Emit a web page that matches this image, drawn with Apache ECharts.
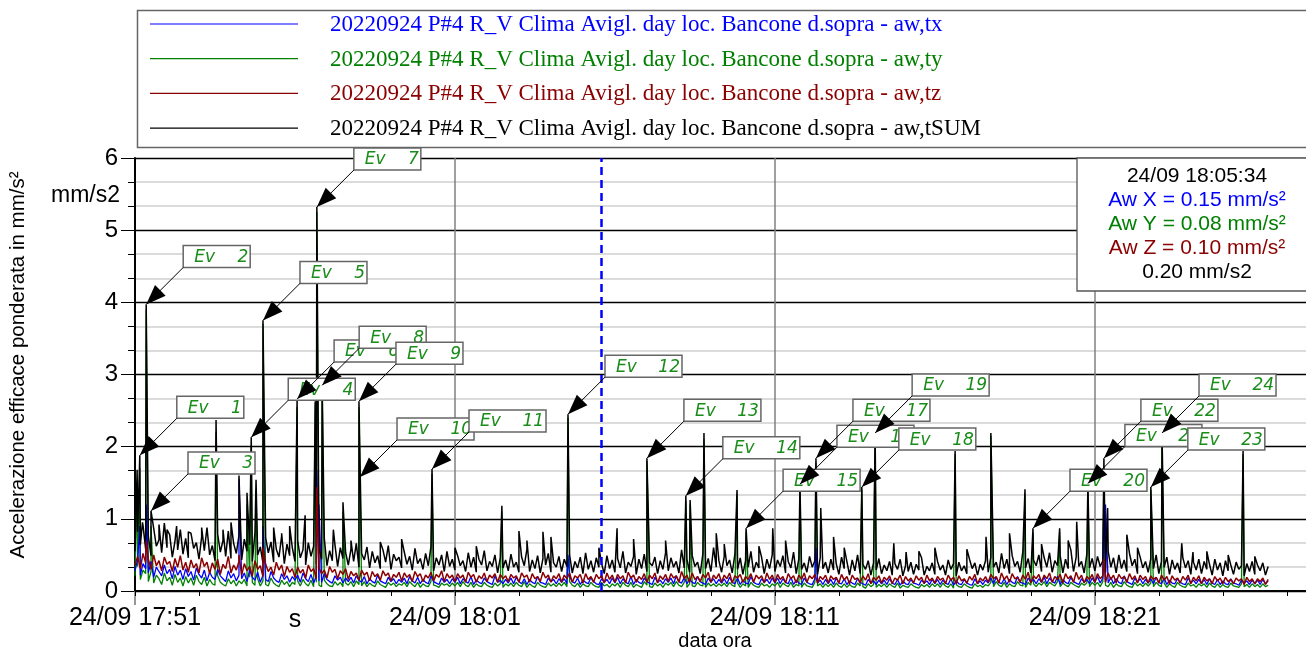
<!DOCTYPE html>
<html>
<head>
<meta charset="utf-8">
<script src="https://cdn.jsdelivr.net/npm/echarts/dist/echarts.min.js"></script>
<style>html,body{margin:0;padding:0;background:#fff}#main{width:1306px;height:651px}</style>
</head>
<body>
<div id="main"></div>
<script>
// seconds from 24/09 17:51:00, one base sample every STEP seconds
const STEP = 5
const T0 = 17 * 3600 + 51 * 60
const X_MAX = 2196
const xTicks = [0, 600, 1200, 1800]
const xSmallTicks = [0,120,240,360,480,600,720,840,960,1080,1200,1320,1440,1560,1680,1800,1920,2040,2160]

const seriesNames = [
    '20220924 P#4 R_V Clima Avigl. day loc. Bancone d.sopra - aw,tx',
    '20220924 P#4 R_V Clima Avigl. day loc. Bancone d.sopra - aw,ty',
    '20220924 P#4 R_V Clima Avigl. day loc. Bancone d.sopra - aw,tz',
    '20220924 P#4 R_V Clima Avigl. day loc. Bancone d.sopra - aw,tSUM'
]
const seriesColors = ['#0000ff', '#008000', '#8b0000', '#000000']

const blackBase = [
    0.55,0.82,0.64,0.91,0.58,0.76,0.49,0.87,0.62,0.71,0.53,0.94,0.60,0.78,0.47,0.69,0.57,0.85,0.51,0.73,
    0.46,0.80,0.59,0.67,0.44,0.75,0.56,0.88,0.50,0.63,0.42,0.79,0.54,0.70,0.48,0.83,0.45,0.66,0.52,0.77,
    0.43,0.72,0.55,0.64,0.41,0.81,0.50,0.61,0.39,0.74,0.53,0.68,0.40,0.58,0.47,0.76,0.38,0.65,0.49,0.60,
    0.41,0.70,0.46,0.57,0.36,0.67,0.48,0.62,0.37,0.59,0.44,0.73,0.35,0.56,0.42,0.64,0.34,0.60,0.45,0.53,
    0.36,0.58,0.41,0.66,0.33,0.52,0.43,0.61,0.32,0.55,0.39,0.49,0.31,0.57,0.40,0.63,0.30,0.51,0.42,0.47,
    0.32,0.54,0.37,0.48,0.29,0.59,0.38,0.45,0.30,0.52,0.35,0.61,0.28,0.46,0.36,0.50,0.27,0.55,0.34,0.44,
    0.29,0.49,0.35,0.42,0.27,0.53,0.33,0.47,0.26,0.44,0.36,0.56,0.28,0.41,0.34,0.50,0.25,0.46,0.32,0.43,
    0.28,0.51,0.33,0.40,0.26,0.47,0.35,0.58,0.27,0.43,0.31,0.49,0.25,0.45,0.36,0.52,0.26,0.39,0.33,0.48,
    0.27,0.44,0.34,0.50,0.25,0.41,0.32,0.47,0.24,0.53,0.30,0.42,0.26,0.46,0.33,0.38,0.24,0.49,0.31,0.43,
    0.26,0.45,0.32,0.55,0.25,0.40,0.34,0.48,0.23,0.44,0.31,0.51,0.27,0.39,0.35,0.47,0.24,0.42,0.30,0.53,
    0.28,0.46,0.33,0.41,0.25,0.57,0.32,0.44,0.26,0.49,0.34,0.40,0.24,0.52,0.31,0.45,0.27,0.60,0.33,0.42,
    0.26,0.48,0.35,0.43,0.25,0.51,0.30,0.46,0.23,0.42,0.33,0.55,0.26,0.40,0.32,0.47,0.24,0.44,0.31,0.50,
    0.27,0.43,0.34,0.49,0.25,0.41,0.32,0.54,0.24,0.45,0.30,0.39,0.26,0.48,0.33,0.42,0.23,0.46,0.31,0.40,
    0.25,0.44,0.29,0.38,0.23,0.47,0.31,0.41,0.22,0.43,0.28,0.50,0.24,0.37,0.30,0.42,0.22,0.39,0.29,0.45,
    0.24,0.36,0.28,0.41,0.22,0.38,0.30,0.44,0.21,0.35,0.27,0.40,0.23,0.37,0.29,0.46,0.22,0.34,0.28,0.39,
    0.23,0.41,0.29,0.36,0.22,0.43,0.30,0.38,0.21,0.40,0.28,0.35,0.24,0.44,0.31,0.39,0.22,0.37,0.29,0.42,
    0.26,0.47,0.33,0.40,0.25,0.52,0.31,0.44,0.24,0.49,0.34,0.41,0.26,0.55,0.32,0.45,0.25,0.43,0.35,0.50,
    0.27,0.46,0.33,0.53,0.26,0.42,0.35,0.49,0.25,0.44,0.31,0.57,0.27,0.47,0.34,0.41,0.25,0.51,0.32,0.45,
    0.28,0.48,0.34,0.42,0.26,0.55,0.33,0.46,0.25,0.50,0.31,0.43,0.27,0.52,0.35,0.44,0.24,0.47,0.32,0.41,
    0.26,0.45,0.31,0.50,0.24,0.41,0.33,0.47,0.23,0.43,0.30,0.39,0.25,0.46,0.32,0.42,0.23,0.40,0.29,0.44,
    0.24,0.41,0.30,0.37,0.22,0.44,0.29,0.39,0.21,0.42,0.28,0.36,0.23,0.40,0.30,0.35,0.21,0.38,0.27,0.41,
    0.23,0.36,0.28,0.39,0.22,0.34
]
const redBase = [
    0.36,0.48,0.31,0.52,0.39,0.44,0.30,0.50,0.35,0.42,0.28,0.47,0.37,0.41,0.27,0.45,0.33,0.49,0.29,0.40,
    0.26,0.43,0.32,0.38,0.25,0.46,0.34,0.40,0.24,0.39,0.30,0.44,0.23,0.37,0.31,0.48,0.25,0.36,0.29,0.41,
    0.22,0.38,0.28,0.34,0.21,0.42,0.30,0.35,0.20,0.37,0.27,0.33,0.22,0.40,0.29,0.36,0.20,0.34,0.26,0.31,
    0.19,0.33,0.25,0.30,0.18,0.36,0.27,0.31,0.17,0.32,0.24,0.29,0.18,0.34,0.26,0.30,0.17,0.28,0.23,0.31,
    0.16,0.27,0.21,0.25,0.15,0.29,0.22,0.26,0.14,0.27,0.20,0.24,0.15,0.28,0.21,0.25,0.14,0.23,0.19,0.26,
    0.14,0.25,0.19,0.23,0.13,0.27,0.20,0.24,0.13,0.22,0.18,0.26,0.14,0.23,0.19,0.28,0.13,0.24,0.18,0.22,
    0.13,0.24,0.18,0.22,0.12,0.26,0.19,0.23,0.12,0.21,0.17,0.25,0.13,0.22,0.18,0.24,0.12,0.23,0.17,0.21,
    0.13,0.23,0.18,0.21,0.12,0.25,0.19,0.22,0.12,0.24,0.17,0.20,0.13,0.26,0.18,0.22,0.12,0.21,0.17,0.24,
    0.12,0.22,0.17,0.25,0.12,0.21,0.18,0.23,0.11,0.24,0.16,0.20,0.12,0.23,0.17,0.21,0.11,0.25,0.16,0.22,
    0.12,0.23,0.17,0.21,0.11,0.26,0.18,0.22,0.12,0.20,0.16,0.24,0.12,0.22,0.17,0.25,0.11,0.21,0.16,0.23,
    0.13,0.24,0.18,0.21,0.12,0.27,0.17,0.22,0.12,0.25,0.16,0.20,0.13,0.23,0.18,0.26,0.12,0.22,0.17,0.24,
    0.12,0.22,0.17,0.25,0.11,0.21,0.18,0.23,0.12,0.20,0.16,0.24,0.12,0.22,0.17,0.21,0.11,0.25,0.16,0.22,
    0.12,0.23,0.16,0.20,0.11,0.24,0.17,0.21,0.11,0.22,0.16,0.25,0.12,0.21,0.17,0.23,0.11,0.20,0.16,0.22,
    0.11,0.21,0.16,0.19,0.11,0.23,0.15,0.20,0.10,0.22,0.16,0.18,0.11,0.21,0.15,0.24,0.10,0.19,0.15,0.21,
    0.11,0.19,0.15,0.21,0.10,0.18,0.15,0.22,0.10,0.20,0.14,0.18,0.11,0.21,0.15,0.19,0.10,0.22,0.14,0.18,
    0.11,0.20,0.15,0.18,0.10,0.22,0.15,0.19,0.10,0.21,0.14,0.17,0.11,0.20,0.15,0.23,0.10,0.18,0.14,0.20,
    0.12,0.23,0.17,0.20,0.11,0.25,0.16,0.21,0.12,0.24,0.17,0.19,0.12,0.22,0.16,0.26,0.11,0.21,0.17,0.23,
    0.12,0.22,0.17,0.25,0.12,0.20,0.16,0.23,0.11,0.24,0.17,0.21,0.12,0.26,0.16,0.22,0.11,0.20,0.16,0.23,
    0.12,0.24,0.17,0.21,0.12,0.25,0.16,0.22,0.11,0.23,0.17,0.20,0.12,0.24,0.16,0.21,0.11,0.22,0.16,0.20,
    0.11,0.21,0.16,0.19,0.11,0.22,0.15,0.20,0.10,0.21,0.15,0.18,0.11,0.20,0.15,0.22,0.10,0.19,0.14,0.21,
    0.10,0.19,0.14,0.17,0.10,0.20,0.14,0.18,0.10,0.19,0.13,0.16,0.10,0.18,0.14,0.17,0.09,0.19,0.13,0.17,
    0.10,0.17,0.13,0.18,0.09,0.16
]
const blueBase = [
    0.28,0.44,0.22,0.38,0.31,0.25,0.41,0.19,0.33,0.27,0.21,0.36,0.24,0.30,0.17,0.34,0.22,0.29,0.16,0.31,
    0.20,0.27,0.15,0.32,0.23,0.18,0.29,0.14,0.26,0.19,0.16,0.30,0.21,0.17,0.13,0.28,0.18,0.24,0.14,0.22,
    0.17,0.25,0.13,0.29,0.19,0.15,0.26,0.12,0.22,0.16,0.13,0.27,0.18,0.14,0.12,0.24,0.16,0.21,0.12,0.20,
    0.15,0.22,0.12,0.25,0.17,0.13,0.23,0.11,0.20,0.14,0.12,0.24,0.16,0.13,0.11,0.21,0.15,0.19,0.11,0.18,
    0.13,0.19,0.11,0.21,0.15,0.12,0.20,0.10,0.17,0.13,0.11,0.22,0.14,0.12,0.10,0.19,0.13,0.17,0.10,0.16,
    0.12,0.18,0.10,0.20,0.14,0.11,0.19,0.10,0.16,0.12,0.10,0.21,0.13,0.11,0.09,0.18,0.12,0.16,0.10,0.17,
    0.12,0.19,0.10,0.17,0.13,0.11,0.20,0.09,0.15,0.12,0.10,0.18,0.13,0.11,0.09,0.21,0.12,0.15,0.10,0.16,
    0.11,0.18,0.10,0.19,0.13,0.10,0.17,0.09,0.16,0.12,0.10,0.20,0.12,0.11,0.09,0.18,0.13,0.16,0.10,0.17,
    0.12,0.17,0.10,0.20,0.13,0.11,0.18,0.09,0.15,0.12,0.10,0.19,0.13,0.10,0.09,0.17,0.12,0.16,0.10,0.18,
    0.11,0.19,0.10,0.17,0.12,0.10,0.20,0.09,0.16,0.12,0.10,0.18,0.13,0.11,0.09,0.19,0.12,0.15,0.10,0.17,
    0.12,0.18,0.10,0.21,0.13,0.11,0.19,0.10,0.16,0.12,0.10,0.20,0.13,0.11,0.09,0.18,0.12,0.17,0.10,0.16,
    0.11,0.17,0.10,0.19,0.12,0.10,0.18,0.09,0.15,0.11,0.10,0.20,0.12,0.10,0.09,0.17,0.12,0.16,0.10,0.18,
    0.11,0.18,0.10,0.17,0.12,0.10,0.19,0.09,0.15,0.11,0.09,0.18,0.12,0.10,0.09,0.17,0.11,0.15,0.09,0.16,
    0.10,0.16,0.09,0.18,0.11,0.10,0.17,0.09,0.14,0.11,0.09,0.17,0.12,0.10,0.08,0.16,0.11,0.14,0.09,0.15,
    0.10,0.15,0.09,0.17,0.11,0.09,0.16,0.08,0.14,0.10,0.09,0.16,0.11,0.10,0.08,0.15,0.11,0.14,0.09,0.16,
    0.10,0.16,0.09,0.15,0.11,0.09,0.17,0.08,0.14,0.10,0.09,0.16,0.11,0.09,0.08,0.17,0.10,0.14,0.09,0.15,
    0.11,0.18,0.10,0.19,0.12,0.10,0.17,0.09,0.16,0.12,0.10,0.20,0.12,0.11,0.09,0.18,0.12,0.16,0.10,0.17,
    0.12,0.19,0.10,0.18,0.13,0.11,0.20,0.09,0.16,0.12,0.10,0.19,0.13,0.11,0.09,0.17,0.12,0.16,0.10,0.18,
    0.12,0.20,0.11,0.18,0.13,0.11,0.19,0.10,0.17,0.12,0.10,0.21,0.13,0.11,0.09,0.18,0.12,0.17,0.10,0.16,
    0.11,0.17,0.10,0.19,0.12,0.10,0.18,0.09,0.15,0.11,0.10,0.17,0.12,0.10,0.09,0.18,0.11,0.15,0.10,0.16,
    0.10,0.16,0.09,0.17,0.11,0.09,0.16,0.09,0.14,0.10,0.09,0.17,0.11,0.10,0.08,0.15,0.11,0.14,0.09,0.15,
    0.10,0.15,0.09,0.16,0.10,0.14
]
const greenBase = [
    0.21,0.34,0.16,0.29,0.24,0.13,0.27,0.11,0.22,0.17,0.09,0.25,0.14,0.19,0.08,0.23,0.12,0.18,0.07,0.20,
    0.11,0.18,0.08,0.22,0.13,0.09,0.19,0.07,0.16,0.10,0.08,0.21,0.12,0.09,0.07,0.17,0.10,0.15,0.07,0.14,
    0.10,0.16,0.07,0.19,0.12,0.08,0.17,0.07,0.14,0.09,0.07,0.18,0.11,0.08,0.06,0.15,0.09,0.13,0.06,0.12,
    0.09,0.14,0.07,0.16,0.10,0.07,0.15,0.06,0.12,0.08,0.06,0.15,0.10,0.07,0.06,0.13,0.08,0.12,0.06,0.11,
    0.08,0.13,0.06,0.14,0.09,0.07,0.13,0.06,0.11,0.08,0.06,0.14,0.09,0.07,0.05,0.12,0.08,0.11,0.06,0.10,
    0.08,0.12,0.06,0.13,0.09,0.06,0.12,0.05,0.10,0.07,0.06,0.13,0.08,0.07,0.05,0.11,0.08,0.10,0.06,0.11,
    0.07,0.12,0.06,0.13,0.08,0.06,0.12,0.05,0.10,0.07,0.06,0.12,0.08,0.06,0.05,0.11,0.07,0.10,0.05,0.10,
    0.07,0.11,0.06,0.12,0.08,0.06,0.13,0.05,0.10,0.07,0.05,0.12,0.08,0.06,0.05,0.11,0.07,0.10,0.06,0.11,
    0.07,0.12,0.06,0.13,0.08,0.06,0.11,0.05,0.10,0.07,0.06,0.12,0.08,0.06,0.05,0.12,0.07,0.09,0.05,0.10,
    0.07,0.11,0.05,0.12,0.08,0.06,0.12,0.05,0.09,0.07,0.05,0.13,0.08,0.06,0.05,0.11,0.07,0.10,0.05,0.11,
    0.08,0.12,0.06,0.13,0.08,0.06,0.12,0.05,0.10,0.07,0.06,0.12,0.08,0.07,0.05,0.11,0.07,0.10,0.06,0.10,
    0.07,0.11,0.06,0.12,0.08,0.06,0.11,0.05,0.10,0.07,0.05,0.12,0.08,0.06,0.05,0.11,0.07,0.09,0.05,0.10,
    0.07,0.12,0.05,0.11,0.08,0.06,0.12,0.05,0.09,0.07,0.05,0.11,0.07,0.06,0.05,0.12,0.07,0.10,0.05,0.10,
    0.06,0.10,0.05,0.11,0.07,0.05,0.10,0.05,0.09,0.06,0.05,0.11,0.07,0.06,0.04,0.10,0.06,0.09,0.05,0.09,
    0.06,0.10,0.05,0.10,0.07,0.05,0.11,0.04,0.08,0.06,0.05,0.10,0.07,0.05,0.04,0.09,0.06,0.09,0.05,0.10,
    0.06,0.10,0.05,0.11,0.07,0.05,0.10,0.04,0.09,0.06,0.05,0.10,0.07,0.05,0.04,0.10,0.06,0.08,0.05,0.09,
    0.07,0.12,0.06,0.13,0.08,0.06,0.12,0.05,0.10,0.07,0.06,0.13,0.08,0.07,0.05,0.12,0.08,0.10,0.06,0.11,
    0.08,0.13,0.06,0.12,0.09,0.07,0.13,0.06,0.11,0.08,0.06,0.12,0.09,0.07,0.05,0.11,0.08,0.11,0.06,0.12,
    0.08,0.12,0.06,0.13,0.08,0.06,0.12,0.05,0.10,0.07,0.06,0.13,0.08,0.06,0.05,0.12,0.07,0.10,0.06,0.11,
    0.07,0.11,0.06,0.12,0.08,0.06,0.11,0.05,0.10,0.07,0.05,0.12,0.08,0.06,0.05,0.11,0.07,0.09,0.05,0.10,
    0.07,0.10,0.05,0.11,0.07,0.05,0.10,0.05,0.09,0.06,0.05,0.11,0.07,0.06,0.05,0.10,0.06,0.09,0.05,0.10,
    0.06,0.09,0.05,0.10,0.06,0.08
]

// [seconds, value] peaks
const blackSpikes = [
    [4,1.68],[9,1.88],[14,0.95],[21,3.97],[30,1.11],[45,0.92],[60,0.85],[78,0.9],[100,0.82],[125,0.88],
    [152,2.37],[165,0.85],[180,0.95],[195,1.6],[210,1.36],[218,2.13],[227,1.54],[240,3.75],[260,0.88],[275,0.8],
    [290,0.9],[304,2.66],[319,1.05],[338,2.63],[341,5.32],[351,2.85],[372,0.85],[390,1.23],[405,0.7],[420,2.63],
    [460,0.68],[500,0.72],[557,1.69],[600,0.6],[640,0.62],[688,1.18],[720,0.83],[735,0.7],[765,0.82],[780,0.75],
    [812,2.45],[870,0.6],[904,0.87],[935,0.72],[960,1.84],[995,0.7],[1033,1.32],[1041,1.26],[1067,2.19],[1090,0.8],
    [1105,0.65],[1129,1.4],[1146,0.87],[1170,0.62],[1196,0.87],[1220,0.7],[1247,1.48],[1277,1.84],[1286,1.15],[1310,0.75],
    [1330,0.6],[1363,1.44],[1388,2.19],[1423,0.66],[1446,0.54],[1470,0.55],[1500,0.6],[1538,1.94],[1560,0.58],[1596,0.75],
    [1605,2.19],[1640,0.8],[1669,1.41],[1684,0.87],[1700,0.65],[1734,0.87],[1750,0.7],[1766,0.96],[1787,1.49],[1817,1.84],
    [1824,1.15],[1860,0.78],[1880,0.6],[1905,1.44],[1926,2.19],[1963,0.66],[1984,0.54],[2010,0.55],[2050,0.5],[2078,1.94],
    [2100,0.48]
]
const greenSpikes = [
    [4,1.5],[9,1.7],[21,3.9],[30,0.9],[152,2.2],[210,1.2],[218,2.0],[227,1.4],[240,3.7],[304,2.55],
    [338,2.6],[341,5.25],[351,2.8],[390,1.1],[420,2.55],[557,1.62],[688,1.1],[812,2.4],[960,1.8],[1033,1.25],
    [1041,1.2],[1067,2.1],[1129,1.35],[1146,0.82],[1247,1.42],[1277,1.78],[1363,1.4],[1388,2.15],[1538,1.9],[1605,2.15],
    [1669,1.35],[1684,0.8],[1734,0.82],[1787,1.42],[1817,1.7],[1905,1.4],[1926,2.1],[2078,1.9]
]
const blueSpikes = [[9,0.9],[21,1.2],[195,1.55],[240,0.9],[341,1.68],[345,1.2],[812,0.5],[1277,0.6],[1817,1.37],[1820,1.2]]
const redSpikes = [[21,0.7],[195,0.5],[240,0.6],[341,1.44],[1817,0.45]]

// annotated events
const evNum = [1,2,3,4,5,6,7,8,9,10,11,12,13,14,15,16,17,18,19,20,21,22,23,24]
const evTime = [9,21,30,218,240,304,341,351,420,422,557,812,960,1033,1146,1247,1277,1363,1388,1684,1787,1817,1905,1926]
const evValue = [1.88,3.97,1.11,2.13,3.75,2.66,5.32,2.85,2.63,1.58,1.69,2.45,1.84,1.32,0.87,1.48,1.84,1.44,2.19,0.87,1.49,1.84,1.44,2.19]

// cursor readout
const cursorTime = 874
const cursorText = '24/09 18:05:34'
const cursorValues = ['0.15', '0.08', '0.10', '0.20']

function build(base, spikes) {
    let pts = base.map((v, i) => [i * STEP, v])
    spikes.forEach(s => pts.push(s))
    pts.sort((a, b) => a[0] - b[0])
    return pts
}

function fmtTime(t) {
    let s = T0 + t
    let hh = Math.floor(s / 3600)
    let mm = Math.floor((s % 3600) / 60)
    return '24/09 ' + hh + ':' + String(mm).padStart(2, '0')
}

const chart = echarts.init(document.getElementById('main'))

const evGreen = '#1a8c1a'
function renderEvent(params, api) {
    let p = api.coord([api.value(0), api.value(1)])
    let num = api.value(2)
    let bx = p[0] + 37, by = p[1] - 37
    let w = num >= 10 ? 77 : 67, h = 22
    let k = Math.SQRT1_2
    let c = [p[0] + 20 * k, p[1] - 20 * k]
    let head = [p, [c[0] + 7.5 * k, c[1] + 7.5 * k], [c[0] - 7.5 * k, c[1] - 7.5 * k]]
    return {
        type: 'group',
        children: [
            { type: 'rect', shape: { x: bx, y: by - h, width: w, height: h }, style: { fill: '#fff', stroke: '#666', lineWidth: 1.5 } },
            { type: 'text', style: { text: 'Ev', x: bx + 11, y: by - h / 2 + 1, verticalAlign: 'middle', fontSize: 17, fontStyle: 'italic', fontFamily: 'DejaVu Sans', fill: evGreen } },
            { type: 'text', style: { text: String(num), x: bx + w - 2, y: by - h / 2 + 1, align: 'right', verticalAlign: 'middle', fontSize: 17, fontStyle: 'italic', fontFamily: 'DejaVu Sans', fill: evGreen } },
            { type: 'line', shape: { x1: bx, y1: by, x2: p[0], y2: p[1] }, style: { stroke: '#000', lineWidth: 1 } },
            { type: 'polygon', shape: { points: head }, style: { fill: '#000' } }
        ]
    }
}

const lineSeries = (name, color, data, z, width) => ({
    name, type: 'line', data, showSymbol: false, z, sampling: null,
    lineStyle: { color, width }, itemStyle: { color }
})

// legend and readout boxes
let graphics = [
    { type: 'rect', left: 135, top: 8, shape: { width: 1185, height: 137 }, style: { fill: 'none', stroke: '#666', lineWidth: 1.5 } }
]
seriesNames.forEach((n, i) => {
    let y = 24 + i * 34.7
    graphics.push({ type: 'line', shape: { x1: 150, y1: y, x2: 298, y2: y }, style: { stroke: seriesColors[i], lineWidth: 1.2 } })
    graphics.push({ type: 'text', x: 330, y: y + 1, style: { text: n, fill: seriesColors[i], fontSize: 23, fontFamily: 'Liberation Serif', verticalAlign: 'middle' } })
})
graphics.push({ type: 'rect', z: 100, shape: { x: 1077, y: 158, width: 240, height: 133 }, style: { fill: '#fff', stroke: '#555', lineWidth: 1.3 } })
let readout = [
    [cursorText, '#000'],
    ['Aw X = ' + cursorValues[0] + ' mm/s²', '#0000ff'],
    ['Aw Y = ' + cursorValues[1] + ' mm/s²', '#008000'],
    ['Aw Z = ' + cursorValues[2] + ' mm/s²', '#8b0000'],
    [cursorValues[3] + ' mm/s2', '#000']
]
readout.forEach((r, i) => {
    graphics.push({ type: 'text', z: 101, x: 1197, y: 176 + i * 24, style: { text: r[0], fill: r[1], fontSize: 21, fontFamily: 'Liberation Sans', align: 'center', verticalAlign: 'middle' } })
})
graphics.push({ type: 'text', x: 120, y: 196, style: { text: 'mm/s2', fontSize: 23, fontFamily: 'Liberation Sans', fill: '#000', align: 'right', verticalAlign: 'middle' } })
graphics.push({ type: 'text', x: 295, y: 620, style: { text: 's', fontSize: 25, fontFamily: 'Liberation Sans', fill: '#000', align: 'center', verticalAlign: 'middle' } })
graphics.push({ type: 'text', x: 715, y: 641, style: { text: 'data ora', fontSize: 20, fontFamily: 'Liberation Sans', fill: '#000', align: 'center', verticalAlign: 'middle' } })
graphics.push({ type: 'text', x: 18, y: 365, rotation: Math.PI / 2, style: { text: 'Accelerazione efficace ponderata in mm/s²', fontSize: 20.5, fontFamily: 'Liberation Sans', fill: '#000', align: 'center', verticalAlign: 'middle' } })

const option = {
    animation: false,
    backgroundColor: '#fff',
    grid: { left: 135, right: 0, top: 158, bottom: 60 },
    xAxis: [{
        type: 'value', min: 0, max: X_MAX, interval: 600,
        axisLine: { lineStyle: { color: '#000', width: 2 } },
        axisTick: { length: 14, customValues: xTicks, lineStyle: { color: '#777', width: 1.5 } },
        splitLine: { show: true, lineStyle: { color: '#808080', width: 1.5 } },
        axisLabel: {
            margin: 15, fontSize: 25, fontFamily: 'Liberation Sans', color: '#000',
            customValues: xTicks,
            formatter: v => xTicks.indexOf(v) >= 0 ? fmtTime(v) : ''
        }
    }, {
        // 2-minute small ticks
        type: 'value', min: 0, max: X_MAX, interval: 120, position: 'bottom',
        axisLine: { show: false },
        axisTick: { show: true, length: 5, customValues: xSmallTicks, lineStyle: { color: '#000' } },
        axisLabel: { show: false },
        splitLine: { show: false }
    }],
    yAxis: {
        type: 'value', min: 0, max: 6, interval: 1,
        axisLine: { show: true, lineStyle: { color: '#000', width: 2 } },
        axisTick: { show: true, length: 14, lineStyle: { color: '#000' } },
        minorTick: { show: true, splitNumber: 3, length: 7, lineStyle: { color: '#000' } },
        splitLine: { lineStyle: { color: '#000', width: 1.3 } },
        minorSplitLine: { show: true, lineStyle: { color: '#d0d0d0', width: 1.5 } },
        axisLabel: { margin: 17, fontSize: 24, fontFamily: 'Liberation Sans', color: '#000' }
    },
    graphic: graphics,
    series: [
        lineSeries(seriesNames[1], seriesColors[1], build(greenBase, greenSpikes), 2, 1.3),
        lineSeries(seriesNames[0], seriesColors[0], build(blueBase, blueSpikes), 3, 1.3),
        lineSeries(seriesNames[3], seriesColors[3], build(blackBase, blackSpikes), 4, 1.5),
        Object.assign(lineSeries(seriesNames[2], seriesColors[2], build(redBase, redSpikes), 5, 1.5), {
            markLine: {
                silent: true, symbol: 'none', label: { show: false },
                lineStyle: { color: '#0000ff', type: [8, 5], width: 2.5 },
                data: [{ xAxis: cursorTime }]
            }
        }),
        {
            type: 'custom', z: 20, clip: false,
            renderItem: renderEvent,
            data: evTime.map((t, i) => [t, evValue[i], evNum[i]])
        }
    ]
}
chart.setOption(option)
window.addEventListener('resize', () => {
    chart.resize()
})
</script>
</body>
</html>
